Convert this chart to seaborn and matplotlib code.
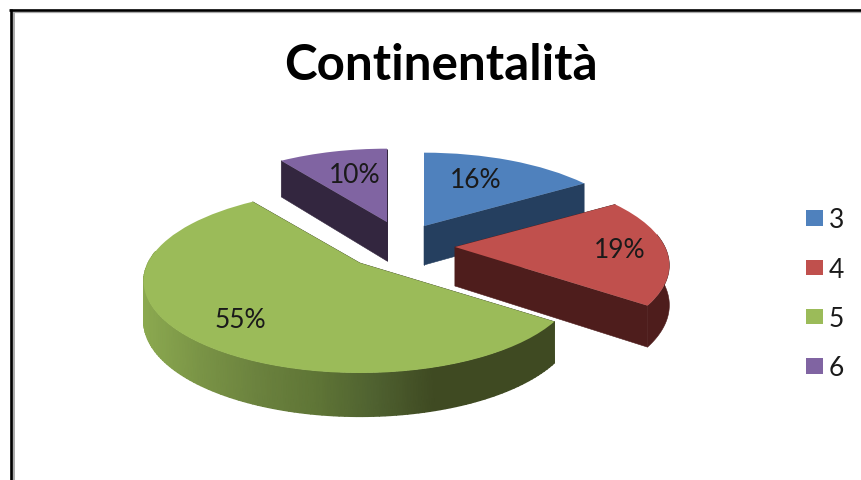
import numpy as np
import matplotlib
matplotlib.use("Agg")
from matplotlib import pyplot as plt
from matplotlib.transforms import Transform
import seaborn as sns

title = "Continentalità"
labels = ["3", "4", "5", "6"]
values = [16, 19, 55, 10]

top_colors = ["#4F81BD", "#C0504D", "#9BBB59", "#8064A2"]
wall_colors = ["#253F5F", "#4E1D1C", "#3F4A22", "#33263F"]
green_ramp = ["#8CAA50", "#7A9446", "#6B823E", "#5F7536", "#4F6130", "#3F4A22", "#3F4A22", "#3F4A22"]

# where each exploded slice sits on the canvas, in pixels
centers = [(424, 227), (455, 248), (360, 264), (387, 223)]
widths = [210, 210, 212, 209]
label_pos = [(476, 181), (620, 251), (240, 321), (355, 176)]
squash = 88
tilt = 0.2
depth = 39


class Tilt(Transform):
    # fake perspective: the back of the disc shrinks, the front grows
    input_dims = 2
    output_dims = 2

    def __init__(self, center, width):
        super().__init__()
        self.center = center
        self.width = width

    def transform_non_affine(self, xy):
        xy = np.asarray(xy, dtype=float)
        w = 1 + tilt * xy[:, 1]
        x = self.center[0] + self.width * xy[:, 0] / w
        y = self.center[1] - squash * xy[:, 1] / w
        return np.column_stack([x, y])


def extrude(p, uv):
    w = np.sqrt(1 + tilt * uv[:, 1])
    return p.transform(uv) + np.column_stack([np.zeros(len(w)), depth / w])


def wall(ax, p, uv, color, zorder):
    top = p.transform(uv)
    low = extrude(p, uv)
    poly = np.vstack([top, low[::-1]])
    ax.fill(poly[:, 0], poly[:, 1], color=color, lw=0.4, zorder=zorder)


sns.set_theme(style="white")
plt.rcParams["font.family"] = ["Lato", "DejaVu Sans"]

fig = plt.figure(figsize=(8.62, 4.81), dpi=100)
ax = fig.add_axes([0, 0, 1, 1])

wedges, _ = ax.pie(values, colors=top_colors, startangle=90, counterclock=False,
                   wedgeprops={"lw": 0})
ax.set_aspect("auto")

# back slices first so the green one ends up on top
order = [3, 0, 1, 2]
ramp = sns.blend_palette(green_ramp, as_cmap=True)
for z, i in enumerate(order):
    wedge = wedges[i]
    p = Tilt(centers[i], widths[i])
    base = 10 * z + 2
    wedge.set_transform(p + ax.transData)
    wedge.set_zorder(base + 3)

    t = np.radians(np.linspace(wedge.theta1, wedge.theta2, 160))
    rim = np.column_stack([np.cos(t), np.sin(t)])
    apex = np.zeros((1, 2))
    wall(ax, p, np.vstack([apex, rim[:1]]), wall_colors[i], base)
    wall(ax, p, np.vstack([apex, rim[-1:]]), wall_colors[i], base)

    # only the front part of the curved wall can be seen
    front = rim[rim[:, 1] < 0.15]
    if len(front) > 1:
        if i == 2:
            top = p.transform(front)
            low = extrude(p, front)
            xx = np.vstack([top[:, 0], low[:, 0]])
            yy = np.vstack([top[:, 1], low[:, 1]])
            cc = np.vstack([top[:, 0], top[:, 0]])
            ax.pcolormesh(xx, yy, cc, shading="gouraud", cmap=ramp, vmin=141, vmax=552,
                          zorder=base + 1)
        else:
            wall(ax, p, front, wall_colors[i], base + 1)

    ax.text(label_pos[i][0], label_pos[i][1], f"{values[i]}%", fontsize=19, color="#1a1a1a",
            ha="center", va="center", zorder=60)

ax.set_xlim(0, 862)
ax.set_ylim(481, 0)
ax.axis("off")

ax.text(441, 66, title, fontsize=35.6, fontweight="bold", color="black",
        ha="center", va="center", zorder=60)

# screenshot frame, top and left only
ax.hlines(13.4, 12, 862, color="#aaaaaa", lw=0.9, zorder=70)
ax.vlines(13.4, 12, 481, color="#aaaaaa", lw=2.1, zorder=70)
ax.hlines(11.4, 9.4, 862, color="black", lw=1.9, zorder=71)
ax.vlines(10.7, 10, 481, color="black", lw=1.9, zorder=71)

leg = ax.legend(wedges, labels, loc="center left", bbox_to_anchor=(0.935, 0.387), frameon=False,
                fontsize=19, handlelength=0.645, handleheight=0.53, handletextpad=0.23,
                labelspacing=0.92, borderpad=0, borderaxespad=0, labelcolor="#1a1a1a")
leg.set_zorder(60)

fig.savefig("out.png", dpi=100)
